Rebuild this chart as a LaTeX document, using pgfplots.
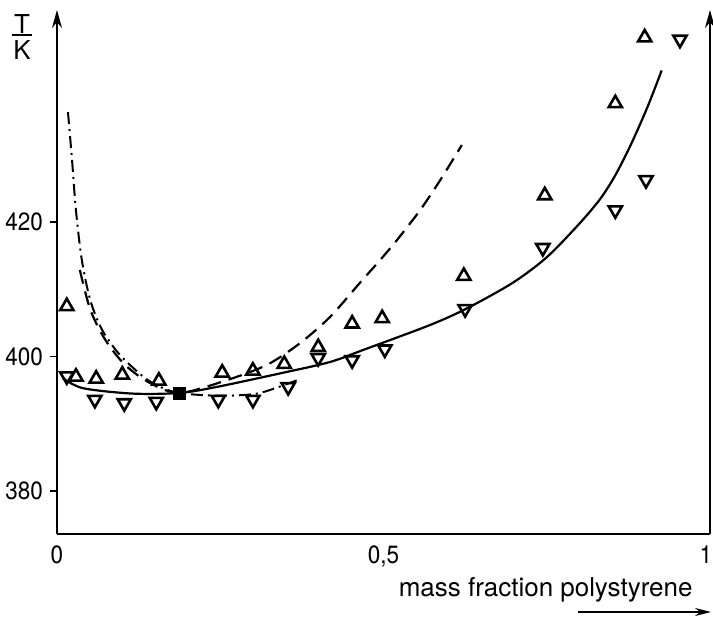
\documentclass[border=0pt]{standalone}
\usepackage{fontspec}
\setmainfont{TeX Gyre Heros}
\newfontfamily\tickfont{TeX Gyre Heros}[FakeStretch=0.9]
\usepackage{pgfplots}
\pgfplotsset{compat=1.18}
\usetikzlibrary{arrows.meta}

\begin{document}
\begin{tikzpicture}[x=1pt,y=1pt]
\path[use as bounding box] (-28.5,-42) rectangle (328,267);
\begin{axis}[
    at={(0,0)}, anchor=south west,
    width=326.5pt, height=262pt, scale only axis,
    xmin=0, xmax=1, ymin=373.6, ymax=451.6,
    clip=false,
    axis line style={draw=none},
    xtick={0,0.5,1},
    xticklabels={0,{0,5},\hspace*{-4pt}1},
    ytick={380,400,420},
    xtick style={draw=none},
    ytick pos=left,
    tick align=outside,
    major tick length=3.5pt,
    ytick style={line width=0.8pt, black},
    tick label style={font=\tickfont\fontsize{12.5}{14}\selectfont},
    /pgf/number format/assume math mode=true,
    x tick label style={yshift=1pt},
]
% solid line
\addplot[smooth, line width=1.1pt] coordinates {
(0.009,396.8) (0.040,395.3) (0.116,394.5) (0.188,394.6) (0.245,395.5)
(0.346,397.6) (0.418,399.2) (0.469,401.0) (0.571,404.7) (0.628,407.2)
(0.698,411.0) (0.750,414.8) (0.800,419.8) (0.832,423.5) (0.855,427.0)
(0.879,431.6) (0.904,437.1) (0.926,442.6)
};
% dashed line
\addplot[smooth, line width=1.1pt, dash pattern=on 7pt off 4pt] coordinates {
(0.035,412.9) (0.051,407.0) (0.074,402.5) (0.104,398.8) (0.142,396.1)
(0.188,394.6) (0.260,396.5) (0.322,398.8) (0.372,402.0) (0.418,405.9)
(0.464,411.0) (0.495,414.4) (0.521,417.4) (0.556,421.8) (0.587,426.3)
(0.620,431.5)
};
% dash-dotted line
\addplot[smooth, line width=1pt, dash pattern=on 6pt off 2.5pt on 1pt off 2.5pt] coordinates {
(0.0168,436.4) (0.023,429.3) (0.029,421.8) (0.038,414.4) (0.051,408.4)
(0.069,404.0) (0.096,400.3) (0.135,396.8) (0.165,395.2) (0.188,394.6)
(0.219,394.3) (0.265,394.2) (0.311,394.6) (0.368,396.5)
};
% upward triangles
\addplot[only marks, mark=triangle, mark size=3.8pt, mark options={line width=1.3pt, fill=white}] coordinates {
(0.015,407.5) (0.029,397.0) (0.060,396.7) (0.100,397.3) (0.156,396.4)
(0.253,397.6) (0.300,397.9) (0.348,398.9) (0.400,401.4) (0.452,404.9)
(0.498,405.7) (0.623,412.0) (0.747,424.0) (0.855,437.7) (0.900,447.5)
};
% downward triangles
\addplot[only marks, mark=triangle, mark size=3.8pt, mark options={rotate=180, line width=1.3pt, fill=white}] coordinates {
(0.015,397.1) (0.058,393.6) (0.103,393.1) (0.152,393.3) (0.247,393.6)
(0.300,393.6) (0.354,395.5) (0.400,399.8) (0.452,399.5) (0.502,401.1)
(0.625,407.1) (0.744,416.2) (0.855,421.8) (0.902,426.3) (0.954,447.2)
};
% critical point
\addplot[only marks, mark=square*, mark size=3pt] coordinates {(0.188,394.6)};

\draw[line width=0.9pt] (rel axis cs:0,0) -- (rel axis cs:1,0);
\draw[line width=0.9pt, -{Stealth[length=9pt,width=5pt]}] (rel axis cs:0,0) -- (rel axis cs:0,1);
\draw[line width=0.9pt, -{Stealth[length=9pt,width=5pt]}] (rel axis cs:1,0) -- (rel axis cs:1,1);
\end{axis}
\begin{scope}[every node/.style={font=\fontsize{13}{15}\selectfont, inner sep=0pt}]
\node at (-17.5,255) {T};
\draw[line width=0.9pt] (-22.5,249.5) -- (-12.5,249.5);
\node at (-17.5,242) {K};
\node[anchor=east] at (318,-28) {mass fraction polystyrene};
\end{scope}
\draw[line width=0.9pt, -{Stealth[length=8pt,width=4pt]}] (260.5,-39) -- (327,-39);
\end{tikzpicture}
\end{document}
